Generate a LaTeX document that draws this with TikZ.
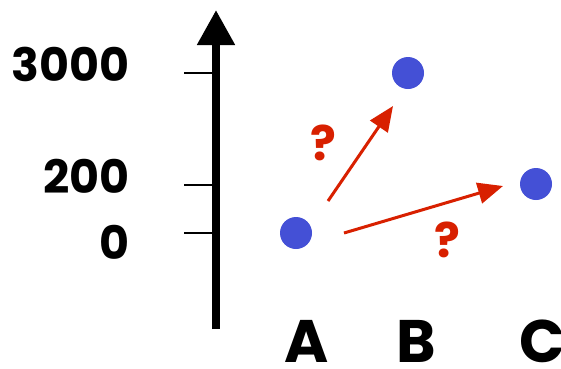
\documentclass[tikz,border=0pt]{standalone}
\usepackage{fontspec}
\setmainfont{Poppins}
\usetikzlibrary{arrows.meta}
\definecolor{dotblue}{RGB}{68,80,214}
\definecolor{arrred}{RGB}{216,32,0}
\begin{document}
\begin{tikzpicture}[x=1pt,y=-1pt,
  dotnode/.style={circle,fill=dotblue,minimum size=32pt,inner sep=0pt},
  numlabel/.style={anchor=base east,font=\fontsize{46}{46}\selectfont\bfseries,inner sep=0pt},
  letlabel/.style={anchor=base,font=\fontsize{60}{60}\selectfont\bfseries,inner sep=0pt},
  qlabel/.style={anchor=base,font=\fontsize{48}{48}\selectfont\bfseries,text=arrred,inner sep=0pt},
  tick/.style={line width=1.4pt},
  redarrow/.style={draw=arrred,line width=3pt,-{Triangle[length=25pt,width=21pt]}}]
\useasboundingbox (0,0) rectangle (561,368);
% axis
\coordinate (axbot) at (216,329);
\coordinate (axtop) at (216,10);
\draw[line width=8pt,-{Triangle[length=35pt,width=36pt]}] (axbot) -- (axtop);
% ticks
\coordinate (t1a) at (184,73); \coordinate (t1b) at (212,73);
\coordinate (t2a) at (184,185); \coordinate (t2b) at (212,185);
\coordinate (t3a) at (184,233); \coordinate (t3b) at (212,233);
\draw[tick] (t1a) -- (t1b);
\draw[tick] (t2a) -- (t2b);
\draw[tick] (t3a) -- (t3b);
% labels
\node[numlabel] (n3000) at (130,81) {3000};
\node[numlabel] (n200) at (130,193) {200};
\node[numlabel] (n0) at (130,259) {0};
% dots
\node[dotnode] (A) at (296,233) {};
\node[dotnode] (B) at (408,73) {};
\node[dotnode] (C) at (536,184) {};
% arrows
\coordinate (s1) at (328,201); \coordinate (e1) at (393,106);
\coordinate (s2) at (344,233); \coordinate (e2) at (503,186);
\draw[redarrow] (s1) -- (e1);
\draw[redarrow] (s2) -- (e2);
\node[qlabel] (q1) at (323,160) {?};
\node[qlabel] (q2) at (447,257) {?};
% letters
\node[letlabel] (la) at (307,362) {A};
\node[letlabel] (lb) at (416,362) {B};
\node[letlabel] (lc) at (542,362) {C};
\end{tikzpicture}
\end{document}
